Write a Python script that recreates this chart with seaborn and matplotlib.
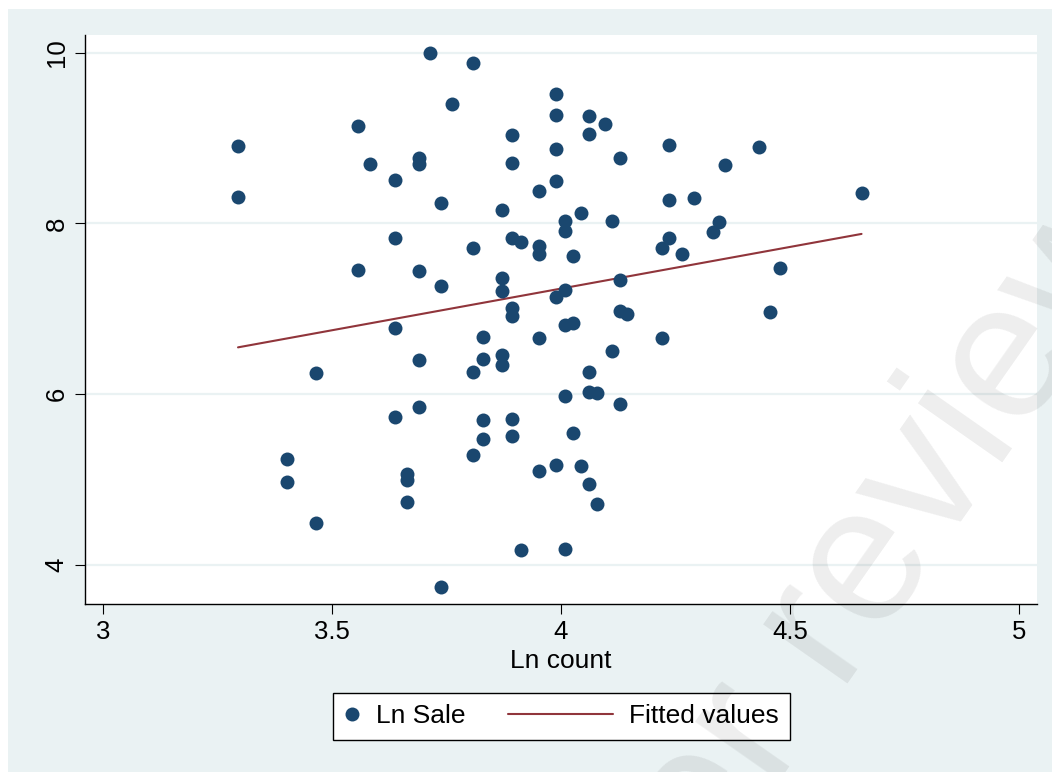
import numpy as np
import pandas as pd
import matplotlib
matplotlib.use('Agg')
import matplotlib.pyplot as plt
import seaborn as sns
from matplotlib.collections import PathCollection
from matplotlib.legend_handler import HandlerPathCollection
from matplotlib.patches import Rectangle

# values (Ln count vs Ln Sale)
ln_count = [
    3.295, 3.295,
    3.401, 3.401,
    3.466, 3.466,
    3.556, 3.556,
    3.583,
    3.638, 3.638, 3.638, 3.638,
    3.664, 3.664, 3.664,
    3.689, 3.689, 3.689, 3.689, 3.689,
    3.714,
    3.738, 3.738, 3.738,
    3.762,
    3.808, 3.808, 3.808, 3.808,
    3.829, 3.829, 3.829, 3.829,
    3.872, 3.872, 3.872, 3.872, 3.872,
    3.892, 3.892, 3.892, 3.892, 3.892, 3.892, 3.892,
    3.912, 3.912,
    3.952, 3.952, 3.952, 3.952, 3.952,
    3.990, 3.990, 3.990, 3.990, 3.990, 3.990,
    4.008, 4.008, 4.008, 4.008, 4.008, 4.008,
    4.027, 4.027, 4.027,
    4.044, 4.044,
    4.061, 4.061, 4.061, 4.061, 4.061,
    4.079, 4.079,
    4.095,
    4.112, 4.112,
    4.128, 4.128, 4.128, 4.128,
    4.144,
    4.220, 4.220,
    4.235, 4.235, 4.235,
    4.264, 4.291, 4.331, 4.345, 4.358, 4.433, 4.456, 4.479, 4.656,
]
ln_sale = [
    8.909, 8.308,
    5.244, 4.975,
    6.244, 4.488,
    9.136, 7.457,
    8.694,
    8.511, 7.825, 6.769, 5.733,
    5.065, 4.995, 4.734,
    8.761, 8.694, 7.442, 6.403, 5.850,
    9.990,
    8.241, 7.263, 3.739,
    9.393,
    9.880, 7.711, 6.259, 5.291,
    6.666, 6.412, 5.694, 5.472,
    8.152, 7.363, 7.208, 6.455, 6.341,
    9.037, 8.710, 7.828, 7.005, 6.919, 5.713, 5.510,
    7.785, 4.176,
    8.375, 7.738, 7.644, 6.661, 5.100,
    9.514, 9.272, 8.867, 8.495, 7.141, 5.174,
    8.031, 7.907, 7.216, 6.806, 5.978, 4.191,
    7.621, 6.837, 5.545,
    8.124, 5.155,
    9.256, 9.049, 6.259, 6.025, 4.952,
    6.010, 4.718,
    9.159,
    8.031, 6.505,
    8.761, 7.336, 6.970, 5.888,
    6.942,
    7.711, 6.661,
    8.913, 8.269, 7.832,
    7.641, 8.296, 7.902, 8.012, 8.686, 8.897, 6.956, 7.473, 8.355,
]
x_ticks = [3, 3.5, 4, 4.5, 5]
x_tick_labels = ['3', '3.5', '4', '4.5', '5']
y_ticks = [4, 6, 8, 10]

df = pd.DataFrame({'ln_count': ln_count, 'ln_sale': ln_sale})

sns.set_style('ticks')
plt.rcParams['font.family'] = ['Liberation Sans', 'DejaVu Sans']
plt.rcParams['text.color'] = 'black'

BG = '#EAF2F3'
NAVY = '#1A476F'
MAROON = '#90353B'


class MarkerHandler(HandlerPathCollection):
    # narrow handle box for the marker so it sits close to its text
    def legend_artist(self, legend, orig_handle, fontsize, handlebox):
        handlebox.width = 0.6 * fontsize
        return super().legend_artist(legend, orig_handle, fontsize, handlebox)


fig = plt.figure(figsize=(10.52, 7.72), dpi=100)
fig.patch.set_facecolor('white')
fig.add_artist(Rectangle((8 / 1052, 0), 1 - 8 / 1052, 1 - 9 / 772,
                         transform=fig.transFigure, facecolor=BG,
                         edgecolor='none', zorder=-5))

ax = fig.add_axes([85 / 1052, 1 - 604 / 772, (1037 - 85) / 1052, (604 - 35) / 772])
ax.set_zorder(1)
ax.set_facecolor('white')

sns.scatterplot(data=df, x='ln_count', y='ln_sale', ax=ax, color=NAVY, s=101,
                linewidth=0, label='Ln Sale', zorder=3)
sns.regplot(data=df, x='ln_count', y='ln_sale', ax=ax, scatter=False, ci=None,
            color=MAROON, line_kws={'linewidth': 1.5, 'zorder': 2},
            label='Fitted values')

ax.set_xlim(2.961, 5.039)
ax.set_ylim(3.543, 10.205)
ax.set_xticks(x_ticks)
ax.set_xticklabels(x_tick_labels)
ax.set_yticks(y_ticks)
ax.set_yticklabels([str(v) for v in y_ticks], rotation=90, va='center')

ax.grid(axis='y', color=BG, linewidth=1.6)
ax.grid(axis='x', visible=False)
ax.set_axisbelow(True)
for side in ['top', 'right']:
    ax.spines[side].set_visible(False)
for side in ['left', 'bottom']:
    ax.spines[side].set_color('black')
    ax.spines[side].set_linewidth(1.0)
ax.tick_params(axis='both', direction='out', length=7.2, width=0.8,
               color='black', labelsize=18.5, labelcolor='black')
ax.tick_params(axis='x', pad=4)
ax.tick_params(axis='y', pad=4.5)

ax.set_xlabel('Ln count', fontsize=19, labelpad=4, color='black')
ax.set_ylabel('')

handles, labels = ax.get_legend_handles_labels()
if ax.get_legend() is not None:
    ax.get_legend().remove()
leg = fig.legend(handles, labels, loc='center', bbox_to_anchor=(0.5337, 0.0719),
                 ncol=2, frameon=True, fancybox=False, edgecolor='black',
                 framealpha=1, facecolor='white', fontsize=19,
                 handlelength=4.0, handletextpad=0.62, columnspacing=1.6,
                 borderpad=0.42, scatterpoints=1, scatteryoffsets=[0.5],
                 labelcolor='black',
                 handler_map={PathCollection: MarkerHandler()})
leg.get_frame().set_linewidth(1.0)
leg.set_zorder(2)

# faint diagonal watermark
fig.text(1.1055, 0.697, 'For peer review', rotation=55, rotation_mode='anchor',
         ha='right', va='baseline', fontsize=140, color='black', alpha=0.07,
         zorder=10)

fig.savefig('out.png', dpi=100)
